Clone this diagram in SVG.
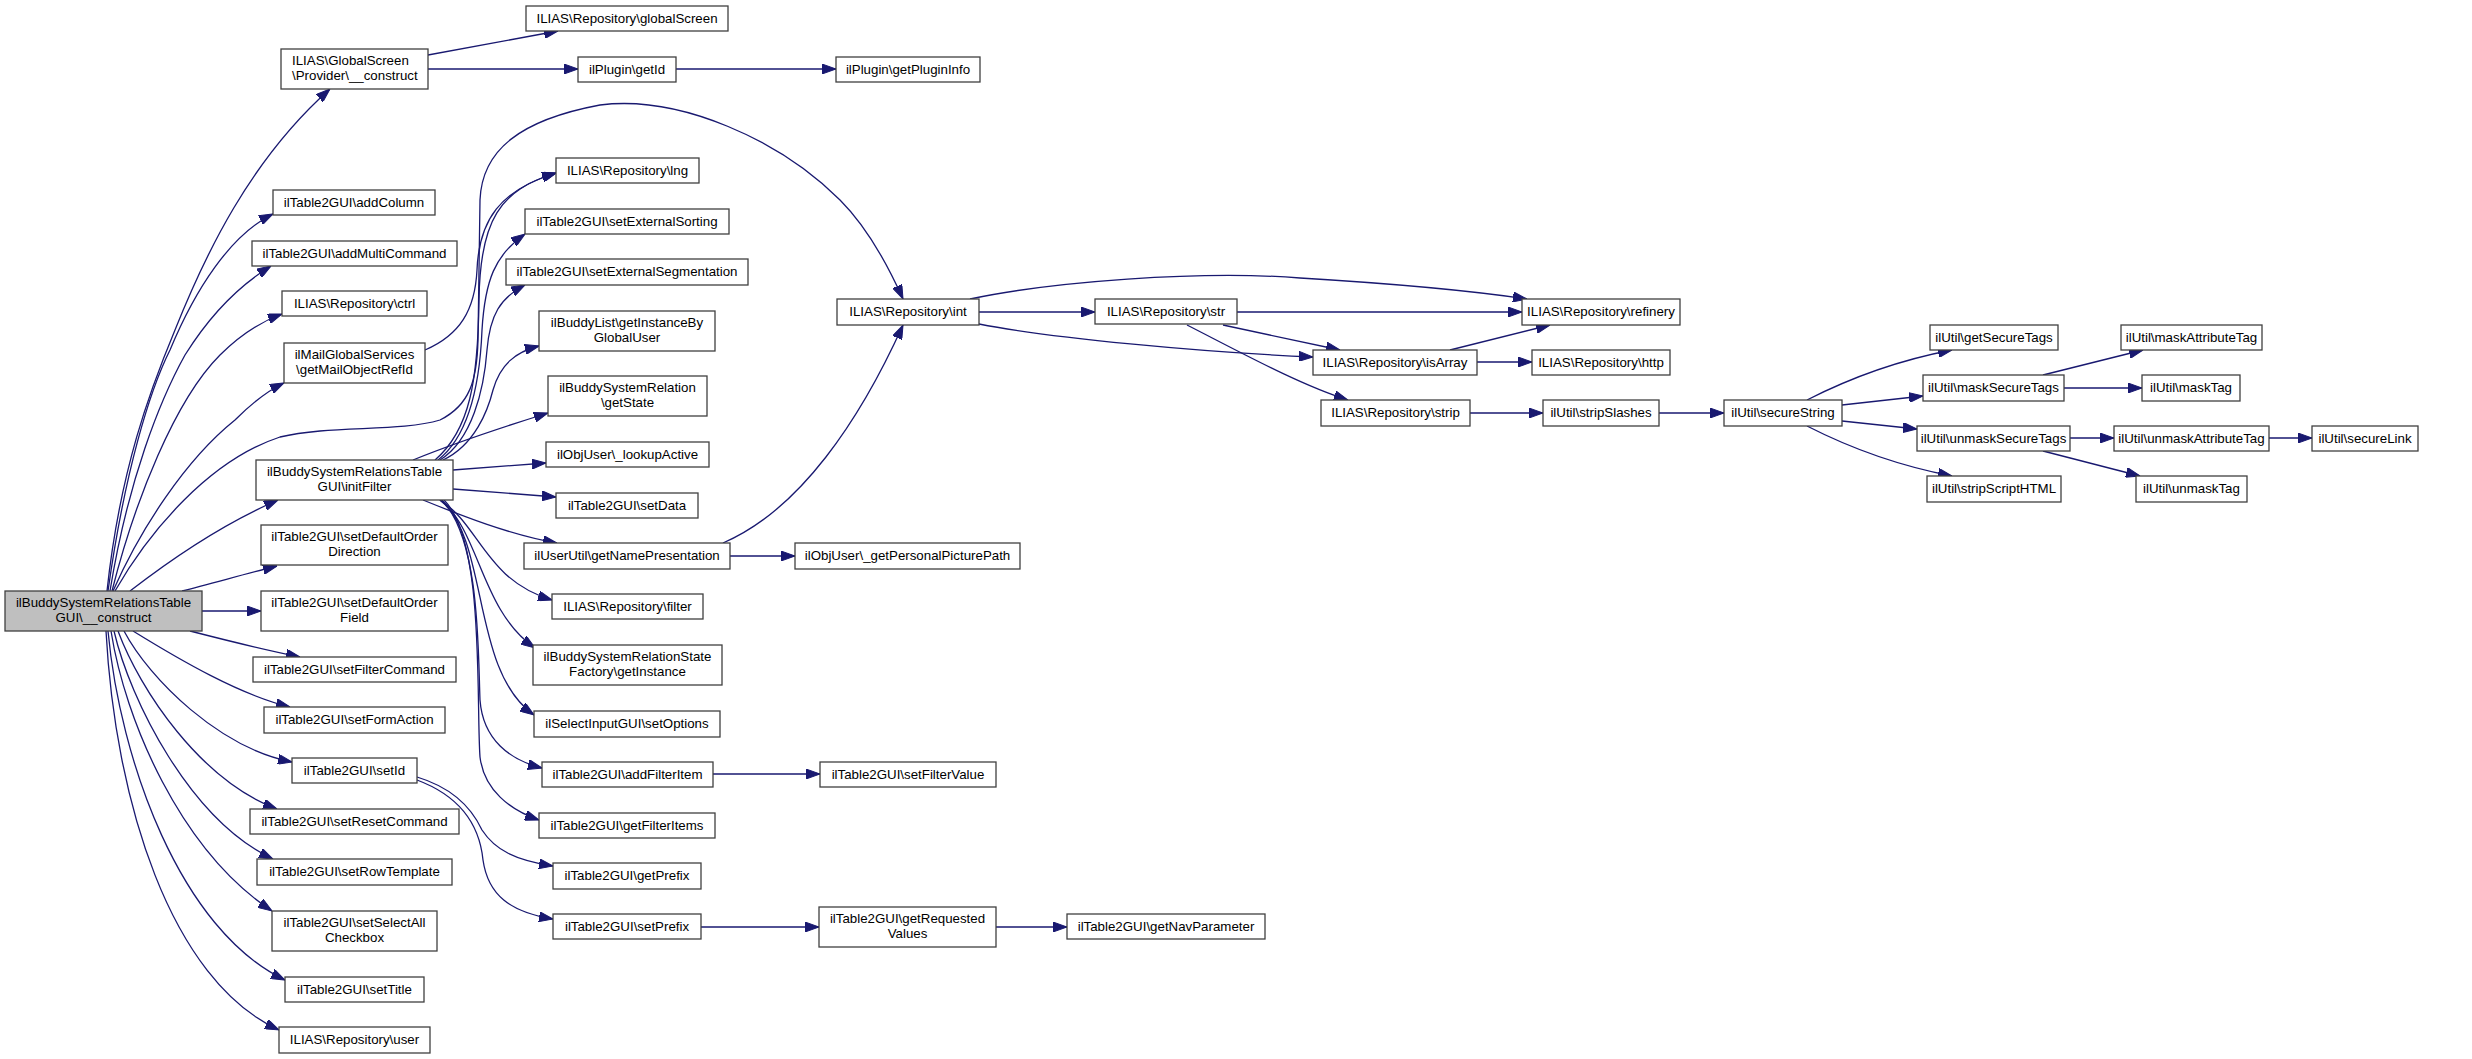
<svg xmlns="http://www.w3.org/2000/svg" width="2472" height="1059" viewBox="0 0 2472 1059">
<defs>
<style>
.n rect{fill:#ffffff;stroke:#404040;stroke-width:1.3}
.n.m rect{fill:#bfbfbf}
.n text{font-family:"Liberation Sans",Arial,Helvetica,sans-serif;font-size:13.3px;fill:#000;text-anchor:middle}
.n text.l{text-anchor:start}
#edges path{fill:none;stroke:#191970;stroke-width:1.3;marker-end:url(#a)}
</style>
<marker id="a" markerUnits="userSpaceOnUse" markerWidth="14" markerHeight="10" refX="14" refY="5" orient="auto">
<path d="M0,0 L14,5 L0,10 z" fill="#191970" stroke="#191970" stroke-width="1"/>
</marker>
</defs>
<rect width="2472" height="1059" fill="#ffffff"/>
<g id="edges">
<path d="M107,591 C120,470 150,390 175,330 C205,255 250,160 330,89"/>
<path d="M108,591 C125,470 150,390 170,350 C195,290 230,235 273,214"/>
<path d="M110,591 C128,480 160,400 185,355 C210,315 240,285 271,266"/>
<path d="M112,591 C135,500 175,400 220,355 C240,335 260,322 282,314"/>
<path d="M113,591 C140,530 185,460 235,420 C250,405 265,392 284,383"/>
<path d="M115,591 C150,530 210,460 280,437 C330,425 400,432 440,420 C470,405 477,380 478,340 L480,200 C482,150 520,120 600,105 C680,95 780,140 840,200 C870,230 890,270 903,299"/>
<path d="M130,591 C170,560 220,525 278,500"/>
<path d="M182,591 C210,584 245,574 277,566"/>
<path d="M202,611 L261,611"/>
<path d="M190,631 C225,640 265,650 300,657"/>
<path d="M133,631 C180,660 240,695 290,707"/>
<path d="M124,631 C150,680 220,748 292,762"/>
<path d="M118,631 C140,690 200,780 277,809"/>
<path d="M114,631 C130,700 190,820 273,859"/>
<path d="M111,631 C125,720 180,850 272,911"/>
<path d="M108,631 C120,760 180,930 285,980"/>
<path d="M106,631 C115,800 170,980 279,1030"/>
<path d="M428,55 L558,31"/>
<path d="M428,69 L578,69"/>
<path d="M676,69 L836,69"/>
<path d="M425,350 C460,335 475,310 477,270 C479,220 500,190 556,173"/>
<path d="M435,460 C470,430 478,380 479,300 C480,220 500,190 556,173"/>
<path d="M438,460 C470,435 480,380 482,330 C485,280 495,255 525,234"/>
<path d="M440,460 C472,440 484,390 487,350 C490,315 500,298 525,285"/>
<path d="M443,460 C475,445 488,410 493,390 C500,365 515,352 539,346"/>
<path d="M413,460 C450,445 500,428 548,413"/>
<path d="M453,470 L546,463"/>
<path d="M453,489 L556,497"/>
<path d="M423,500 C460,515 510,535 557,543"/>
<path d="M440,500 C480,525 485,580 552,600"/>
<path d="M440,500 C480,530 480,610 535,648"/>
<path d="M440,500 C490,540 470,670 534,715"/>
<path d="M442,500 C480,540 478,650 480,700 C483,740 510,760 542,768"/>
<path d="M444,500 C485,540 476,700 480,757 C484,790 510,810 539,820"/>
<path d="M417,777 C460,790 475,815 482,830 C495,850 515,860 553,866"/>
<path d="M417,780 C465,798 480,830 483,860 C488,895 510,912 553,919"/>
<path d="M723,543 C800,510 860,420 903,325"/>
<path d="M730,556 L795,556"/>
<path d="M713,774 L820,774"/>
<path d="M701,927 L819,927"/>
<path d="M996,927 L1067,927"/>
<path d="M979,312 L1095,312"/>
<path d="M970,299 C1050,282 1200,270 1300,278 C1400,284 1480,292 1527,299"/>
<path d="M979,324 C1050,338 1200,352 1313,357"/>
<path d="M1237,312 L1522,312"/>
<path d="M1223,325 L1340,350"/>
<path d="M1187,325 C1240,352 1300,385 1348,400"/>
<path d="M1450,350 L1550,325"/>
<path d="M1477,362 L1532,362"/>
<path d="M1470,413 L1543,413"/>
<path d="M1659,413 L1724,413"/>
<path d="M1807,400 C1850,378 1900,360 1952,350"/>
<path d="M1842,405 L1923,396"/>
<path d="M1842,421 L1917,429"/>
<path d="M1807,426 C1850,448 1900,466 1952,476"/>
<path d="M2043,375 L2143,350"/>
<path d="M2064,388 L2142,388"/>
<path d="M2070,438 L2114,438"/>
<path d="M2043,451 L2140,476"/>
<path d="M2269,438 L2312,438"/>
</g>
<g id="n0" class="n m"><rect x="5" y="591" width="197" height="40"/><text x="103.5" y="606.5">ilBuddySystemRelationsTable</text><text x="103.5" y="622">GUI\__construct</text></g>
<g id="n1" class="n"><rect x="281" y="49" width="147" height="40"/><text class="l" x="292" y="64.5">ILIAS\GlobalScreen</text><text class="l" x="292" y="80">\Provider\__construct</text></g>
<g id="n2" class="n"><rect x="273" y="190" width="162" height="25"/><text x="354" y="206.5">ilTable2GUI\addColumn</text></g>
<g id="n3" class="n"><rect x="252" y="241" width="205" height="25"/><text x="354.5" y="257.5">ilTable2GUI\addMultiCommand</text></g>
<g id="n4" class="n"><rect x="282" y="291" width="145" height="25"/><text x="354.5" y="307.5">ILIAS\Repository\ctrl</text></g>
<g id="n5" class="n"><rect x="284" y="343" width="141" height="40"/><text x="354.5" y="358.5">ilMailGlobalServices</text><text x="354.5" y="374">\getMailObjectRefId</text></g>
<g id="n6" class="n"><rect x="256" y="460" width="197" height="40"/><text x="354.5" y="475.5">ilBuddySystemRelationsTable</text><text x="354.5" y="491">GUI\initFilter</text></g>
<g id="n7" class="n"><rect x="261" y="525" width="187" height="40"/><text x="354.5" y="540.5">ilTable2GUI\setDefaultOrder</text><text x="354.5" y="556">Direction</text></g>
<g id="n8" class="n"><rect x="261" y="591" width="187" height="40"/><text x="354.5" y="606.5">ilTable2GUI\setDefaultOrder</text><text x="354.5" y="622">Field</text></g>
<g id="n9" class="n"><rect x="253" y="657" width="203" height="25"/><text x="354.5" y="673.5">ilTable2GUI\setFilterCommand</text></g>
<g id="n10" class="n"><rect x="264" y="707" width="181" height="26"/><text x="354.5" y="724">ilTable2GUI\setFormAction</text></g>
<g id="n11" class="n"><rect x="292" y="758" width="125" height="25"/><text x="354.5" y="774.5">ilTable2GUI\setId</text></g>
<g id="n12" class="n"><rect x="250" y="809" width="209" height="25"/><text x="354.5" y="825.5">ilTable2GUI\setResetCommand</text></g>
<g id="n13" class="n"><rect x="257" y="859" width="195" height="26"/><text x="354.5" y="876">ilTable2GUI\setRowTemplate</text></g>
<g id="n14" class="n"><rect x="272" y="911" width="165" height="40"/><text x="354.5" y="926.5">ilTable2GUI\setSelectAll</text><text x="354.5" y="942">Checkbox</text></g>
<g id="n15" class="n"><rect x="285" y="977" width="139" height="25"/><text x="354.5" y="993.5">ilTable2GUI\setTitle</text></g>
<g id="n16" class="n"><rect x="279" y="1027" width="151" height="26"/><text x="354.5" y="1044">ILIAS\Repository\user</text></g>
<g id="n17" class="n"><rect x="526" y="6" width="202" height="25"/><text x="627" y="22.5">ILIAS\Repository\globalScreen</text></g>
<g id="n18" class="n"><rect x="578" y="57" width="98" height="25"/><text x="627" y="73.5">ilPlugin\getId</text></g>
<g id="n19" class="n"><rect x="836" y="57" width="144" height="25"/><text x="908" y="73.5">ilPlugin\getPluginInfo</text></g>
<g id="n20" class="n"><rect x="556" y="158" width="143" height="25"/><text x="627.5" y="174.5">ILIAS\Repository\lng</text></g>
<g id="n21" class="n"><rect x="525" y="209" width="204" height="25"/><text x="627" y="225.5">ilTable2GUI\setExternalSorting</text></g>
<g id="n22" class="n"><rect x="506" y="259" width="242" height="26"/><text x="627" y="276">ilTable2GUI\setExternalSegmentation</text></g>
<g id="n23" class="n"><rect x="539" y="311" width="176" height="40"/><text x="627" y="326.5">ilBuddyList\getInstanceBy</text><text x="627" y="342">GlobalUser</text></g>
<g id="n24" class="n"><rect x="548" y="376" width="159" height="40"/><text x="627.5" y="391.5">ilBuddySystemRelation</text><text x="627.5" y="407">\getState</text></g>
<g id="n25" class="n"><rect x="546" y="442" width="163" height="25"/><text x="627.5" y="458.5">ilObjUser\_lookupActive</text></g>
<g id="n26" class="n"><rect x="556" y="493" width="142" height="25"/><text x="627" y="509.5">ilTable2GUI\setData</text></g>
<g id="n27" class="n"><rect x="524" y="543" width="206" height="26"/><text x="627" y="560">ilUserUtil\getNamePresentation</text></g>
<g id="n28" class="n"><rect x="552" y="594" width="151" height="25"/><text x="627.5" y="610.5">ILIAS\Repository\filter</text></g>
<g id="n29" class="n"><rect x="533" y="645" width="189" height="40"/><text x="627.5" y="660.5">ilBuddySystemRelationState</text><text x="627.5" y="676">Factory\getInstance</text></g>
<g id="n30" class="n"><rect x="534" y="711" width="186" height="26"/><text x="627" y="728">ilSelectInputGUI\setOptions</text></g>
<g id="n31" class="n"><rect x="542" y="762" width="171" height="25"/><text x="627.5" y="778.5">ilTable2GUI\addFilterItem</text></g>
<g id="n32" class="n"><rect x="539" y="813" width="176" height="25"/><text x="627" y="829.5">ilTable2GUI\getFilterItems</text></g>
<g id="n33" class="n"><rect x="553" y="863" width="148" height="26"/><text x="627" y="880">ilTable2GUI\getPrefix</text></g>
<g id="n34" class="n"><rect x="553" y="914" width="148" height="25"/><text x="627" y="930.5">ilTable2GUI\setPrefix</text></g>
<g id="n35" class="n"><rect x="837" y="299" width="142" height="26"/><text x="908" y="316">ILIAS\Repository\int</text></g>
<g id="n36" class="n"><rect x="795" y="543" width="225" height="26"/><text x="907.5" y="560">ilObjUser\_getPersonalPicturePath</text></g>
<g id="n37" class="n"><rect x="820" y="762" width="176" height="25"/><text x="908" y="778.5">ilTable2GUI\setFilterValue</text></g>
<g id="n38" class="n"><rect x="819" y="907" width="177" height="40"/><text x="907.5" y="922.5">ilTable2GUI\getRequested</text><text x="907.5" y="938">Values</text></g>
<g id="n39" class="n"><rect x="1067" y="914" width="198" height="25"/><text x="1166" y="930.5">ilTable2GUI\getNavParameter</text></g>
<g id="n40" class="n"><rect x="1095" y="299" width="142" height="25"/><text x="1166" y="315.5">ILIAS\Repository\str</text></g>
<g id="n41" class="n"><rect x="1313" y="350" width="164" height="25"/><text x="1395" y="366.5">ILIAS\Repository\isArray</text></g>
<g id="n42" class="n"><rect x="1321" y="400" width="149" height="26"/><text x="1395.5" y="417">ILIAS\Repository\strip</text></g>
<g id="n43" class="n"><rect x="1522" y="299" width="158" height="26"/><text x="1601" y="316">ILIAS\Repository\refinery</text></g>
<g id="n44" class="n"><rect x="1532" y="350" width="138" height="25"/><text x="1601" y="366.5">ILIAS\Repository\http</text></g>
<g id="n45" class="n"><rect x="1543" y="400" width="116" height="26"/><text x="1601" y="417">ilUtil\stripSlashes</text></g>
<g id="n46" class="n"><rect x="1724" y="400" width="118" height="26"/><text x="1783" y="417">ilUtil\secureString</text></g>
<g id="n47" class="n"><rect x="1930" y="325" width="128" height="25"/><text x="1994" y="341.5">ilUtil\getSecureTags</text></g>
<g id="n48" class="n"><rect x="1923" y="375" width="141" height="26"/><text x="1993.5" y="392">ilUtil\maskSecureTags</text></g>
<g id="n49" class="n"><rect x="1917" y="426" width="153" height="25"/><text x="1993.5" y="442.5">ilUtil\unmaskSecureTags</text></g>
<g id="n50" class="n"><rect x="1927" y="476" width="134" height="26"/><text x="1994" y="493">ilUtil\stripScriptHTML</text></g>
<g id="n51" class="n"><rect x="2121" y="325" width="141" height="25"/><text x="2191.5" y="341.5">ilUtil\maskAttributeTag</text></g>
<g id="n52" class="n"><rect x="2142" y="375" width="98" height="26"/><text x="2191" y="392">ilUtil\maskTag</text></g>
<g id="n53" class="n"><rect x="2114" y="426" width="155" height="25"/><text x="2191.5" y="442.5">ilUtil\unmaskAttributeTag</text></g>
<g id="n54" class="n"><rect x="2136" y="476" width="111" height="26"/><text x="2191.5" y="493">ilUtil\unmaskTag</text></g>
<g id="n55" class="n"><rect x="2312" y="426" width="106" height="25"/><text x="2365" y="442.5">ilUtil\secureLink</text></g>
</svg>
